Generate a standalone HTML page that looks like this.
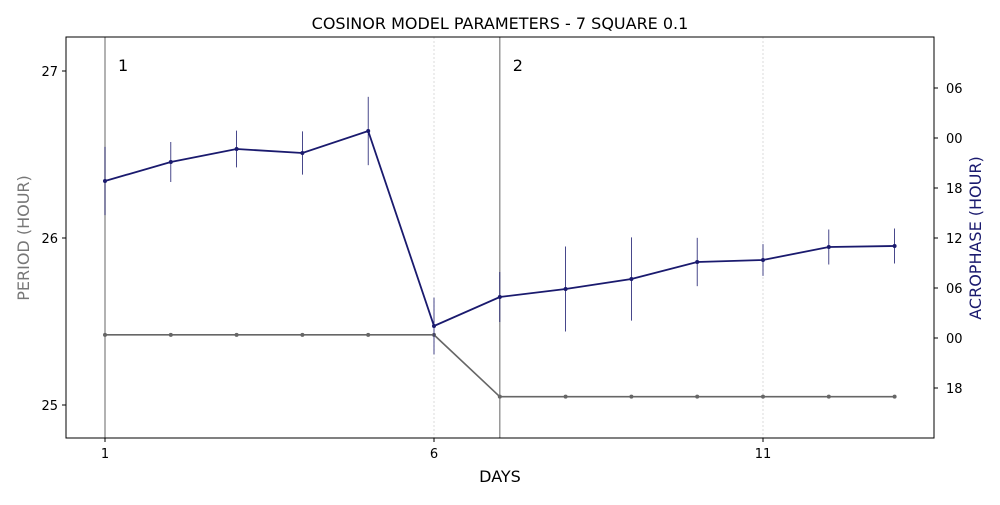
<!DOCTYPE html>
<html><head><meta charset="utf-8"><style>
body{margin:0;background:#fff;font-family:"Liberation Sans","DejaVu Sans",sans-serif}
</style></head><body>
<svg width="1000" height="500" viewBox="0 0 1000 500" xmlns="http://www.w3.org/2000/svg" font-family="DejaVu Sans, Liberation Sans, sans-serif">
<g id="g"></g>
</svg>
<script>
const days=[1,2,3,4,5,6,7,8,9,10,11,12,13];
const period=[25.42,25.42,25.42,25.42,25.42,25.42,25.05,25.05,25.05,25.05,25.05,25.05,25.05];
const acro=[18.84,21.12,22.68,22.2,24.84,1.44,4.92,5.88,7.08,9.12,9.36,10.92,11.04];
const acroErr=[4.1,2.4,2.2,2.6,4.1,3.4,3.0,5.1,5.0,2.9,1.9,2.1,2.1];
const xTicks=[1,6,11];
const yLeftTicks=[25,26,27];
const yRightTicks=[-6,0,6,12,18,24,30];
const yRightLabels=["18","00","06","12","18","00","06"];
const phaseLines=[1,7];
const phaseLabels=["1","2"];
const L=66,R=934,T=37,B=438;
const xs=d=>105+(d-1)*65.8;
const yl=v=>71+(27-v)*167;
const yr=v=>338-v*50/6;
const ns="http://www.w3.org/2000/svg",g=document.getElementById('g');
function el(t,a,txt){const e=document.createElementNS(ns,t);for(const k in a)e.setAttribute(k,a[k]);if(txt!==undefined)e.textContent=txt;g.appendChild(e);return e;}
// grid
xTicks.forEach(d=>{const e=el('line',{x1:xs(d),x2:xs(d),y1:T,y2:B,stroke:'#ccc','stroke-width':0.7,'stroke-dasharray':'2,2'});

});
phaseLines.forEach((d,i)=>{const e=el('line',{x1:xs(d),x2:xs(d),y1:T,y2:B,stroke:'#888','stroke-width':1.3});


const t=el('text',{x:xs(d)+13,y:71,'font-size':16,fill:'#000'},phaseLabels[i]);

});
// period line
let p=el('polyline',{points:days.map((d,i)=>xs(d)+','+yl(period[i])).join(' '),fill:'none',stroke:'#666','stroke-width':1.6});


days.forEach((d,i)=>{const c=el('circle',{cx:xs(d),cy:yl(period[i]),r:2,fill:'#666'});

});
// acrophase
days.forEach((d,i)=>{const e=el('line',{x1:xs(d),x2:xs(d),y1:yr(acro[i]+acroErr[i]),y2:yr(acro[i]-acroErr[i]),stroke:'#1a1a6e','stroke-width':0.8});

});
let a=el('polyline',{points:days.map((d,i)=>xs(d)+','+yr(acro[i])).join(' '),fill:'none',stroke:'#1a1a6e','stroke-width':1.8});


days.forEach((d,i)=>{const c=el('circle',{cx:xs(d),cy:yr(acro[i]),r:2,fill:'#1a1a6e'});

});
// frame
let f=el('rect',{x:L,y:T,width:R-L,height:B-T,fill:'none',stroke:'#000','stroke-width':1});


xTicks.forEach(d=>{el('line',{x1:xs(d),x2:xs(d),y1:B,y2:B+4,stroke:'#000'});
const t=el('text',{x:xs(d),y:B+20,'font-size':13,'text-anchor':'middle'},String(d));

});
yLeftTicks.forEach(v=>{el('line',{x1:L-4,x2:L,y1:yl(v),y2:yl(v),stroke:'#000'});
const t=el('text',{x:L-8,y:yl(v)+5,'font-size':13,'text-anchor':'end'},String(v));

});
yRightTicks.forEach((v,i)=>{el('line',{x1:R,x2:R+4,y1:yr(v),y2:yr(v),stroke:'#000'});
const t=el('text',{x:R+12,y:yr(v)+5,'font-size':13},yRightLabels[i]);

});
let tt=el('text',{x:500,y:29,'font-size':16,'text-anchor':'middle'},'COSINOR MODEL PARAMETERS - 7 SQUARE 0.1');


let xl=el('text',{x:500,y:482,'font-size':16,'text-anchor':'middle'},'DAYS');


let y1=el('text',{x:0,y:0,'font-size':16,'text-anchor':'middle',fill:'#777',transform:'translate(29,238) rotate(-90)'},'PERIOD (HOUR)');


let y2=el('text',{x:0,y:0,'font-size':16,'text-anchor':'middle',fill:'#1a1a6e',transform:'translate(981,238) rotate(-90)'},'ACROPHASE (HOUR)');


</script>
</body></html>
